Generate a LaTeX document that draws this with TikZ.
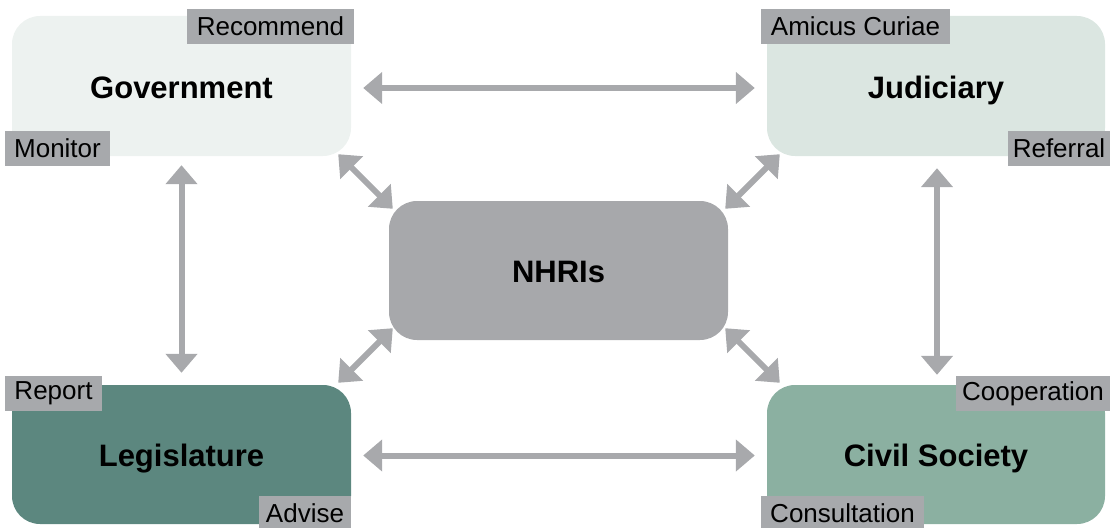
\documentclass[tikz,border=0pt]{standalone}
\usepackage{fontspec}
\setmainfont{Liberation Sans}
\usetikzlibrary{arrows.meta,calc}
\definecolor{govc}{HTML}{EDF2F0}
\definecolor{judc}{HTML}{DBE6E1}
\definecolor{nhric}{HTML}{A7A8AB}
\definecolor{legc}{HTML}{5C877F}
\definecolor{civc}{HTML}{8BB0A1}
\definecolor{labc}{HTML}{A7A9AC}
\definecolor{arrc}{HTML}{A8A9AC}
\tikzset{
  bigbox/.style={rounded corners=28pt, inner sep=0pt, text=black,
    text height=24pt, text depth=0pt,
    font=\fontsize{31}{36}\selectfont\bfseries},
  tag/.style={fill=labc, inner sep=0pt, minimum height=35pt, text=black,
    font=\fontsize{26}{30}\selectfont},
  biarrow/.style={draw=arrc, line width=6pt,
    {Triangle[length=19pt,width=31pt]}-{Triangle[length=19pt,width=31pt]}}
}
\begin{document}
\begin{tikzpicture}[x=1pt,y=-1pt]
\useasboundingbox (0,0) rectangle (1110,527);
% main boxes
\node[bigbox, fill=govc, minimum width=339pt, minimum height=140pt] (gov) at (181.5,86) {Government};
\node[bigbox, fill=judc, minimum width=338pt, minimum height=140pt] (jud) at (936,86) {Judiciary};
\node[bigbox, fill=nhric, minimum width=339pt, minimum height=139pt] (nhri) at (558.5,270.5) {NHRIs};
\node[bigbox, fill=legc, minimum width=339pt, minimum height=139pt] (leg) at (181.5,454.5) {Legislature};
\node[bigbox, fill=civc, minimum width=338pt, minimum height=139pt] (civ) at (936,454.5) {Civil Society};
% tags
\node[tag, minimum width=167pt] (trec) at (270.5,26.5) {Recommend};
\node[tag, minimum width=105pt] (tmon) at (57.5,148.5) {Monitor};
\node[tag, minimum width=189pt] (tami) at (855.5,26.5) {Amicus Curiae};
\node[tag, minimum width=102pt] (tref) at (1059,148.5) {Referral};
\node[tag, minimum width=97pt] (trep) at (53.5,393.5) {Report};
\node[tag, minimum width=92pt] (tadv) at (305,513.5) {Advise};
\node[tag, minimum width=154pt] (tcoo) at (1033,393.5) {Cooperation};
\node[tag, minimum width=163pt] (tcon) at (842.5,513.5) {Consultation};
% connectors
\draw[biarrow, shorten <=12pt, shorten >=12pt] ([yshift=-2pt]gov.east) -- ([yshift=-2pt]jud.west);
\draw[biarrow, shorten <=12pt, shorten >=12pt] ([yshift=-1pt]leg.east) -- ([yshift=-1pt]civ.west);
\draw[biarrow, shorten <=9pt, shorten >=12pt] (gov.south) -- (leg.north);
\draw[biarrow, shorten <=12pt, shorten >=10pt] ([xshift=1pt]jud.south) -- ([xshift=1pt]civ.north);
\draw[biarrow] ($(gov.south east)+(-13,-2)$) -- ($(nhri.north west)+(4,8)$);
\draw[biarrow] ($(jud.south west)+(13,-2)$) -- ($(nhri.north east)+(-3,8)$);
\draw[biarrow] ($(leg.north east)+(-13,-2)$) -- ($(nhri.south west)+(4,-12)$);
\draw[biarrow] ($(civ.north west)+(13,-2)$) -- ($(nhri.south east)+(-3,-12)$);
\end{tikzpicture}
\end{document}
